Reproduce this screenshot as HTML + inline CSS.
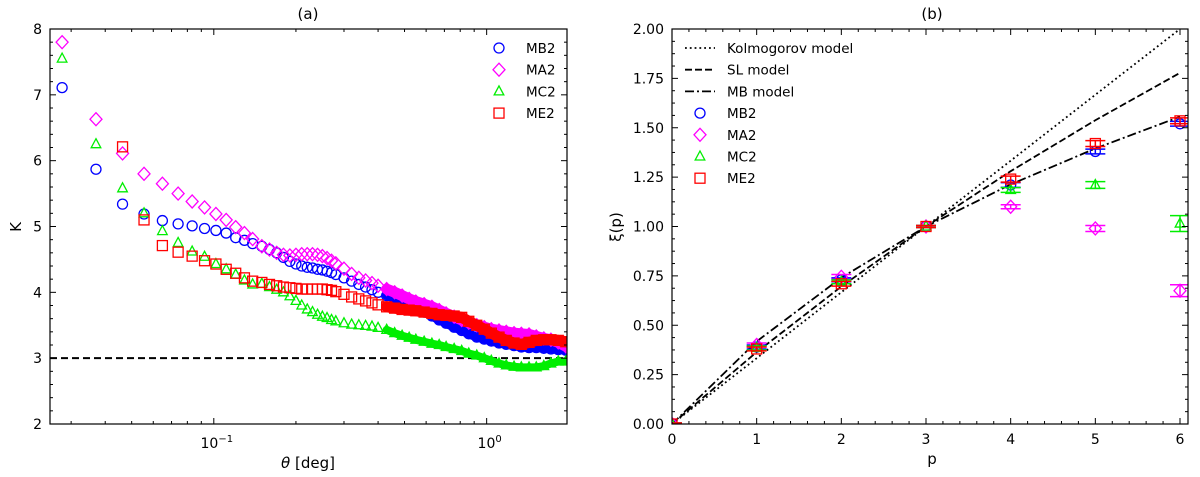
<!DOCTYPE html>
<html><head><meta charset="utf-8">
<style>
html,body{margin:0;padding:0;background:#fff;}
svg{display:block;font-family:"DejaVu Sans","Liberation Sans",sans-serif;}
</style></head>
<body>
<svg id="fig" width="1200" height="477" viewBox="0 0 1200 477" xmlns="http://www.w3.org/2000/svg"></svg>
<script>
// ---------- Panel (a) data ----------
const thetaA = [0.0278,0.037,0.0463,0.0555,0.0648,0.074,0.0833,0.0925,0.1018,0.111,0.1203,0.1295,0.1388,
0.15,0.16,0.17,0.18,0.19,0.20,0.21,0.22,0.23,0.24,0.25,0.26,0.27,0.28,0.30,0.32,0.34,0.36,0.38,0.40,0.43,0.46,0.49,0.52,0.55,0.59,0.63,0.67,0.71,0.76,0.81,0.86,0.92,0.98,1.04,1.11,1.18,1.26,1.34,1.43,1.52,1.62,1.72,1.83,1.95];
const kMB2 = [7.11,5.87,5.34,5.19,5.09,5.04,5.01,4.97,4.94,4.90,4.83,4.79,4.74,
4.70,4.65,4.60,4.53,4.47,4.43,4.40,4.38,4.37,4.35,4.34,4.32,4.30,4.27,4.22,4.17,4.12,4.08,4.04,4.00,3.95,3.91,3.87,3.82,3.77,3.70,3.64,3.58,3.53,3.47,3.42,3.37,3.32,3.29,3.26,3.23,3.21,3.19,3.17,3.16,3.16,3.15,3.14,3.13,3.12];
const kMA2 = [7.80,6.63,6.11,5.80,5.65,5.50,5.38,5.29,5.19,5.10,4.99,4.90,4.81,
4.70,4.65,4.60,4.57,4.56,4.57,4.58,4.58,4.58,4.57,4.55,4.52,4.48,4.44,4.36,4.28,4.22,4.18,4.14,4.10,4.05,4.00,3.95,3.90,3.86,3.82,3.78,3.73,3.68,3.63,3.58,3.54,3.50,3.47,3.44,3.42,3.40,3.38,3.37,3.36,3.33,3.30,3.28,3.24,3.18];
const kMC2 = [7.55,6.25,5.58,5.20,4.93,4.75,4.62,4.54,4.43,4.35,4.27,4.18,4.12,
4.13,4.08,4.04,4.00,3.94,3.87,3.80,3.74,3.70,3.66,3.63,3.61,3.58,3.56,3.53,3.51,3.50,3.49,3.48,3.46,3.43,3.38,3.34,3.31,3.28,3.25,3.22,3.20,3.17,3.14,3.11,3.07,3.04,3.00,2.96,2.92,2.89,2.87,2.86,2.86,2.86,2.88,2.92,2.95,2.95];
const kME2 = [null,null,6.21,5.10,4.71,4.61,4.55,4.48,4.43,4.35,4.29,4.22,4.17,
4.15,4.12,4.10,4.08,4.07,4.06,4.05,4.05,4.05,4.05,4.05,4.04,4.03,4.01,3.97,3.93,3.90,3.87,3.84,3.81,3.78,3.76,3.74,3.73,3.72,3.70,3.68,3.66,3.65,3.64,3.62,3.56,3.50,3.44,3.38,3.32,3.27,3.23,3.21,3.24,3.27,3.28,3.28,3.27,3.25];
const yTicksA = [2,3,4,5,6,7,8];
const xTicksA = [0.1,1];
const xTickLabelsA = ["10","10"];
const refK = 3;

// ---------- Panel (b) data ----------
const pVals = [0,1,2,3,4,5,6];
const kolmo = [0,0.333,0.667,1.0,1.333,1.667,2.0];
const slModel = [0,0.364,0.696,1.0,1.280,1.538,1.778];
const mbModel = [0,0.418,0.741,1.0,1.213,1.395,1.556];
const xiMB2 = [0,0.39,0.73,1.0,1.21,1.38,1.52];
const errMB2 = [0.005,0.01,0.01,0.005,0.012,0.012,0.012];
const xiMA2 = [0,0.40,0.745,1.0,1.10,0.99,0.675];
const errMA2 = [0.005,0.01,0.012,0.005,0.01,0.015,0.03];
const xiMC2 = [0,0.385,0.72,1.0,1.185,1.21,1.015];
const errMC2 = [0.005,0.01,0.01,0.005,0.012,0.017,0.04];
const xiME2 = [0,0.38,0.71,1.0,1.24,1.42,1.535];
const errME2 = [0.005,0.01,0.012,0.005,0.015,0.015,0.015];
const yTicksB = [0,0.25,0.5,0.75,1.0,1.25,1.5,1.75,2.0];
const xTicksB = [0,1,2,3,4,5,6];

const NS = "http://www.w3.org/2000/svg";
const svg = document.getElementById('fig');
function el(tag, attrs, parent){
  const e = document.createElementNS(NS, tag);
  for (const k in attrs) e.setAttribute(k, attrs[k]);
  (parent||svg).appendChild(e);
  return e;
}
const COLORS = {MB2:'#0000ff', MA2:'#ff00ff', MC2:'#00ee00', ME2:'#ff0000'};

function marker(g, type, x, y, color){
  let m;
  if (type==='circle') m = el('circle',{cx:x,cy:y,r:5,fill:'none',stroke:color,'stroke-width':1.3},g);
  else if (type==='diamond') m = el('polygon',{points:`${x},${y-6.5} ${x+6},${y} ${x},${y+6.5} ${x-6},${y}`,fill:'none',stroke:color,'stroke-width':1.3},g);
  else if (type==='triangle') m = el('polygon',{points:`${x},${y-5.5} ${x+4.8},${y+3.5} ${x-4.8},${y+3.5}`,fill:'none',stroke:color,'stroke-width':1.3},g);
  else m = el('rect',{x:x-5,y:y-5,width:10,height:10,fill:'none',stroke:color,'stroke-width':1.3},g);
  return m;
}

// ================= Panel A =================
const A = {l:50, r:567, t:29, b:424};
const xminA = 0.0251, xmaxA = 1.97;
function xA(v){ return A.l + (Math.log10(v)-Math.log10(xminA))/(Math.log10(xmaxA)-Math.log10(xminA))*(A.r-A.l); }
function yA(v){ return A.b - (v-2)/(8-2)*(A.b-A.t); }

const gA = el('g',{});


el('defs',{}).innerHTML = '<clipPath id="clipA"><rect x="50" y="29" width="517" height="395"/></clipPath><clipPath id="clipB"><rect x="672" y="29" width="516" height="395"/></clipPath>';

const t = el('text',{x:308,y:19,'font-size':15,'text-anchor':'middle'},gA);
t.textContent='(a)';



const ref = el('line',{x1:A.l,x2:A.r,y1:yA(refK),y2:yA(refK),stroke:'#000','stroke-width':2,'stroke-dasharray':'7,4'},gA);



const seriesA = [['MB2',kMB2,'circle',9],['MA2',kMA2,'diamond',11],['MC2',kMC2,'triangle',8],['ME2',kME2,'square',11]];
const clipGA = el('g',{'clip-path':'url(#clipA)'},gA);
const bandStart = 0.42;
seriesA.forEach(([name,arr,type,bw])=>{
  const g = el('g',{},clipGA);
  
  
  const pts = [];
  thetaA.forEach((th,i)=>{ if (arr[i]!=null && th>=bandStart) pts.push(xA(th)+','+yA(arr[i])); });
  const band = el('polyline',{points:pts.join(' '),fill:'none',stroke:COLORS[name],'stroke-width':bw,'stroke-linejoin':'round','stroke-linecap':'round'},g);
  
  
  thetaA.forEach((th,i)=>{
    if (arr[i]==null) return;
    const m = marker(g,type,xA(th),yA(arr[i]),COLORS[name]);
    
    
  });
});

const frA = el('rect',{x:A.l,y:A.t,width:A.r-A.l,height:A.b-A.t,fill:'none',stroke:'#000','stroke-width':1.2},gA);


for (let v=2; v<=8.001; v+=0.2){
  const y = yA(v); const major = Math.abs(v-Math.round(v))<1e-6; const L = major?6:3;
  el('line',{x1:A.l,x2:A.l+L,y1:y,y2:y,stroke:'#000','stroke-width':1},gA);
  el('line',{x1:A.r,x2:A.r-L,y1:y,y2:y,stroke:'#000','stroke-width':1},gA);
}
yTicksA.forEach(v=>{
  const tx = el('text',{x:A.l-8,y:yA(v)+5,'font-size':14,'text-anchor':'end'},gA);
  tx.textContent = String(v);
  
  
});
[0.03,0.04,0.05,0.06,0.07,0.08,0.09,0.2,0.3,0.4,0.5,0.6,0.7,0.8,0.9].forEach(v=>{
  const x = xA(v);
  el('line',{x1:x,x2:x,y1:A.b,y2:A.b-3,stroke:'#000','stroke-width':1},gA);
  el('line',{x1:x,x2:x,y1:A.t,y2:A.t+3,stroke:'#000','stroke-width':1},gA);
});
xTicksA.forEach((v,i)=>{
  const x = xA(v);
  el('line',{x1:x,x2:x,y1:A.b,y2:A.b-6,stroke:'#000','stroke-width':1},gA);
  el('line',{x1:x,x2:x,y1:A.t,y2:A.t+6,stroke:'#000','stroke-width':1},gA);
  const tx = el('text',{x:x+3,y:A.b+24,'font-size':14,'text-anchor':'middle'},gA);
  tx.innerHTML = xTickLabelsA[i] + '<tspan dy="-6" font-size="10">' + (i===0?'−1':'0') + '</tspan>';
  
  
});
const xlA = el('text',{x:308,y:468,'font-size':15,'text-anchor':'middle'},gA);
xlA.innerHTML = '<tspan font-style="italic">θ</tspan> [deg]';


const ylA = el('text',{x:21,y:227,'font-size':15,'text-anchor':'middle',transform:'rotate(-90 21 227)'},gA);
ylA.textContent='K';


const legA = el('g',{},gA);


seriesA.forEach(([name,arr,type],i)=>{
  const y = 48 + i*21.7;
  const g = el('g',{},legA);
  
  
  marker(g,type,499,y,COLORS[name]);
  const tx = el('text',{x:526,y:y+5,'font-size':13.5},g);
  tx.textContent=name;
});

// ================= Panel B =================
const B = {l:672, r:1188, t:29, b:424};
function xB(v){ return B.l + v*(1180-672)/6; }
function yB(v){ return B.b - v/2*(B.b-B.t); }
const gB = el('g',{});


const tb = el('text',{x:932,y:19,'font-size':15,'text-anchor':'middle'},gB);
tb.textContent='(b)';



const clipGB = el('g',{'clip-path':'url(#clipB)'},gB);
function modelLine(arr, dash, name){
  const pts = pVals.map((p,i)=>xB(p)+','+yB(arr[i])).join(' ');
  const l = el('polyline',{points:pts,fill:'none',stroke:'#000','stroke-width':1.8,'stroke-dasharray':dash},clipGB);
  
  
}
modelLine(kolmo,'1.8,3','kolmogorov-model-line');
modelLine(slModel,'7,3','sl-model-line');
modelLine(mbModel,'9,3,2,3','mb-model-line');

const seriesB = [['MB2',xiMB2,errMB2,'circle'],['MA2',xiMA2,errMA2,'diamond'],['MC2',xiMC2,errMC2,'triangle'],['ME2',xiME2,errME2,'square']];
seriesB.forEach(([name,arr,err,type])=>{
  const g = el('g',{},clipGB);
  
  
  pVals.forEach((p,i)=>{
    const x = xB(p), y = yB(arr[i]), y1 = yB(arr[i]-err[i]), y2 = yB(arr[i]+err[i]);
    const c = COLORS[name];
    el('line',{x1:x,x2:x,y1:y1,y2:y2,stroke:c,'stroke-width':1.5},g);
    el('line',{x1:x-10,x2:x+10,y1:y1,y2:y1,stroke:c,'stroke-width':1.5},g);
    el('line',{x1:x-10,x2:x+10,y1:y2,y2:y2,stroke:c,'stroke-width':1.5},g);
    const m = marker(g,type,x,y,c);
    
    
  });
});

const frB = el('rect',{x:B.l,y:B.t,width:B.r-B.l,height:B.b-B.t,fill:'none',stroke:'#000','stroke-width':1.2},gB);


for (let v=0; v<=2.0001; v+=0.0625){
  const y = yB(v); const major = Math.abs(v/0.25-Math.round(v/0.25))<1e-6; const L = major?6:3;
  el('line',{x1:B.l,x2:B.l+L,y1:y,y2:y,stroke:'#000','stroke-width':1},gB);
  el('line',{x1:B.r,x2:B.r-L,y1:y,y2:y,stroke:'#000','stroke-width':1},gB);
}
for (let v=0; v<=6.1; v+=0.2){
  const x = xB(v); const major = Math.abs(v-Math.round(v))<1e-6; const L = major?6:3;
  el('line',{x1:x,x2:x,y1:B.b,y2:B.b-L,stroke:'#000','stroke-width':1},gB);
  el('line',{x1:x,x2:x,y1:B.t,y2:B.t+L,stroke:'#000','stroke-width':1},gB);
}
yTicksB.forEach(v=>{
  const tx = el('text',{x:B.l-8,y:yB(v)+5,'font-size':14,'text-anchor':'end'},gB);
  tx.textContent = v.toFixed(2);
  
  
});
xTicksB.forEach(v=>{
  const tx = el('text',{x:xB(v),y:B.b+20,'font-size':14,'text-anchor':'middle'},gB);
  tx.textContent = String(v);
  
  
});
const xlB = el('text',{x:932,y:464,'font-size':15,'text-anchor':'middle'},gB);
xlB.textContent='p';


const ylB = el('text',{x:621,y:227,'font-size':15,'text-anchor':'middle',transform:'rotate(-90 621 227)'},gB);
ylB.textContent='ξ(p)';



const legB = el('g',{},gB);


[['Kolmogorov model','1.8,3'],['SL model','7,3'],['MB model','9,3,2,3']].forEach(([lab,dash],i)=>{
  const y = 48 + i*21.7;
  const g = el('g',{},legB);
  
  
  el('line',{x1:685,x2:715,y1:y,y2:y,stroke:'#000','stroke-width':1.8,'stroke-dasharray':dash},g);
  const tx = el('text',{x:727,y:y+5,'font-size':13.5},g);
  tx.textContent = lab;
});
seriesB.forEach(([name,arr,err,type],i)=>{
  const y = 48 + (i+3)*21.7;
  const g = el('g',{},legB);
  
  
  marker(g,type,700,y,COLORS[name]);
  const tx = el('text',{x:727,y:y+5,'font-size':13.5},g);
  tx.textContent = name;
});
</script>
</body></html>
